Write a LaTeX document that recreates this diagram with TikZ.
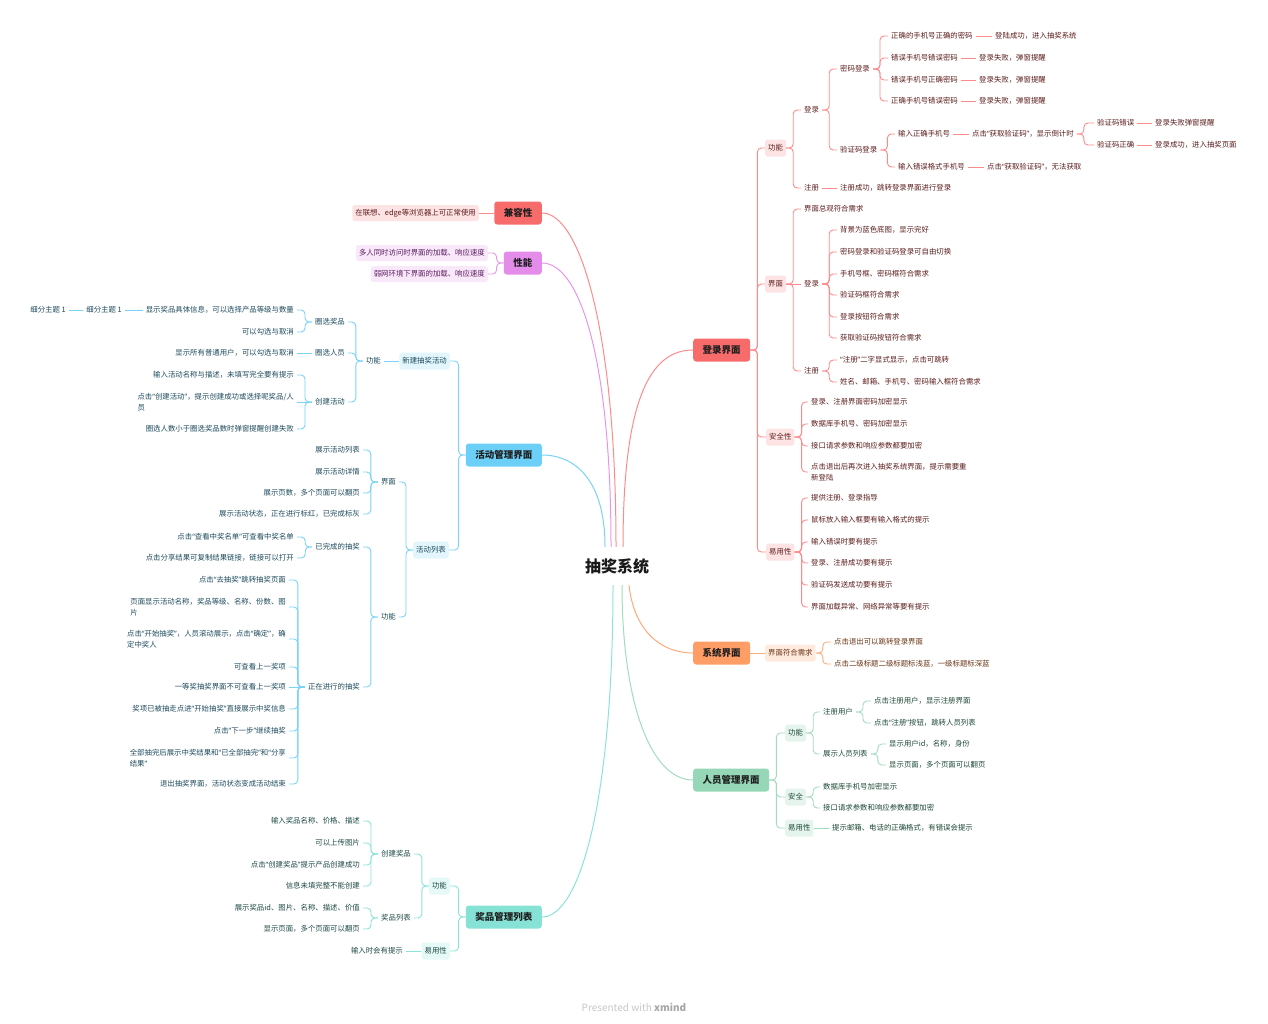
\documentclass[tikz,border=0pt]{standalone}
\usepackage{fontspec}
\setmainfont{Noto Sans CJK SC}
\newfontfamily\quotefont{Noto Sans}
\newcommand\qo{{\quotefont “}}
\newcommand\qc{{\quotefont ”}}
\definecolor{redM}{HTML}{F86B6B}
\definecolor{redL}{HTML}{FDE3E3}
\definecolor{redK}{HTML}{FF8A8A}
\definecolor{redT}{HTML}{5C1C1C}
\definecolor{purM}{HTML}{E38CEA}
\definecolor{purL}{HTML}{F9E7FA}
\definecolor{purK}{HTML}{E596E9}
\definecolor{purT}{HTML}{5B1F60}
\definecolor{bluM}{HTML}{6CCFF7}
\definecolor{bluL}{HTML}{E3F6FD}
\definecolor{bluK}{HTML}{7AD3F7}
\definecolor{bluT}{HTML}{1D4A5C}
\definecolor{oraM}{HTML}{FF9D66}
\definecolor{oraL}{HTML}{FFEBDE}
\definecolor{oraK}{HTML}{FFAA7A}
\definecolor{oraT}{HTML}{693313}
\definecolor{grnM}{HTML}{95D7B6}
\definecolor{grnL}{HTML}{E5F5ED}
\definecolor{grnK}{HTML}{A2DBBD}
\definecolor{grnT}{HTML}{1D4935}
\definecolor{teaM}{HTML}{86E2D5}
\definecolor{teaL}{HTML}{E5F9F6}
\definecolor{teaK}{HTML}{8AE3D8}
\definecolor{teaT}{HTML}{1D4945}
\tikzset{
  rootnode/.style={inner sep=2pt, minimum height=38pt, font=\fontsize{16}{18}\selectfont\bfseries, text=black!90},
  topic/.style={rounded corners=3pt, minimum height=23pt, inner xsep=9.5pt, inner ysep=2pt, font=\fontsize{9.5}{11}\selectfont\bfseries, text=black!88},
  subbox/.style={rounded corners=2.5pt, minimum height=17pt, inner xsep=3pt, inner ysep=1pt, font=\fontsize{7.4}{11}\selectfont},
  leaf/.style={inner xsep=3pt, inner ysep=1pt, align=left, font=\fontsize{7.4}{11}\selectfont},
  linkline/.style={line width=0.9pt, rounded corners=4pt},
  branch/.style={line width=1pt},
  redleaf/.style={leaf, anchor=west, text=redT},
  redbox/.style={subbox, anchor=west, fill=redL, text=redT},
  redlink/.style={linkline, draw=redK},
  oraleaf/.style={leaf, anchor=west, text=oraT},
  orabox/.style={subbox, anchor=west, fill=oraL, text=oraT},
  oralink/.style={linkline, draw=oraK},
  grnleaf/.style={leaf, anchor=west, text=grnT},
  grnbox/.style={subbox, anchor=west, fill=grnL, text=grnT},
  grnlink/.style={linkline, draw=grnK},
  bluleaf/.style={leaf, anchor=east, text=bluT},
  blubox/.style={subbox, anchor=east, fill=bluL, text=bluT},
  blulink/.style={linkline, draw=bluK},
  tealeaf/.style={leaf, anchor=east, text=teaT},
  teabox/.style={subbox, anchor=east, fill=teaL, text=teaT},
  tealink/.style={linkline, draw=teaK},
  purbox/.style={subbox, anchor=east, fill=purL, text=purT, minimum height=16pt},
  purlink/.style={linkline, draw=purK}
}
\begin{document}
\begin{tikzpicture}[x=1pt,y=-1pt]
\useasboundingbox (0,0) rectangle (1268,1023);

\node[rootnode] (root) at (617,566) {抽奖系统};

%% 登录界面
\node[topic, fill=redM, anchor=west] (login) at (693,350) {登录界面};
\node[redbox]  (lgF)   at (765,148) {功能};
\node[redleaf] (lgFL)  at (801,110) {登录};
\node[redleaf] (pwd)   at (837,69)  {密码登录};
\node[redleaf] (pwd1)  at (888,36)  {正确的手机号正确的密码};
\node[redleaf] (pwd1r) at (992,36)  {登陆成功，进入抽奖系统};
\node[redleaf] (pwd2)  at (888,58)  {错误手机号错误密码};
\node[redleaf] (pwd2r) at (976,58)  {登录失败，弹窗提醒};
\node[redleaf] (pwd3)  at (888,80)  {错误手机号正确密码};
\node[redleaf] (pwd3r) at (976,80)  {登录失败，弹窗提醒};
\node[redleaf] (pwd4)  at (888,101) {正确手机号错误密码};
\node[redleaf] (pwd4r) at (976,101) {登录失败，弹窗提醒};
\node[redleaf] (sms)   at (837,150) {验证码登录};
\node[redleaf] (sms1)  at (895,134) {输入正确手机号};
\node[redleaf] (sms1r) at (969,134) {点击\qo 获取验证码\qc ，显示倒计时};
\node[redleaf] (sms1a) at (1094,123) {验证码错误};
\node[redleaf] (sms1ar) at (1152,123) {登录失败弹窗提醒};
\node[redleaf] (sms1b) at (1094,145) {验证码正确};
\node[redleaf] (sms1br) at (1152,145) {登录成功，进入抽奖页面};
\node[redleaf] (sms2)  at (895,167) {输入错误格式手机号};
\node[redleaf] (sms2r) at (984,167) {点击\qo 获取验证码\qc ，无法获取};
\node[redleaf] (lgFR)  at (801,188) {注册};
\node[redleaf] (lgFRr) at (837,188) {注册成功，跳转登录界面进行登录};

\node[redbox]  (lgU)   at (765,284) {界面};
\node[redleaf] (lgU1)  at (801,209) {界面总观符合需求};
\node[redleaf] (lgUL)  at (801,284) {登录};
\node[redleaf] (lgUL1) at (837,230) {背景为蓝色底图，显示完好};
\node[redleaf] (lgUL2) at (837,252) {密码登录和验证码登录可自由切换};
\node[redleaf] (lgUL3) at (837,274) {手机号框、密码框符合需求};
\node[redleaf] (lgUL4) at (837,295) {验证码框符合需求};
\node[redleaf] (lgUL5) at (837,317) {登录按钮符合需求};
\node[redleaf] (lgUL6) at (837,338) {获取验证码按钮符合需求};
\node[redleaf] (lgUR)  at (801,371) {注册};
\node[redleaf] (lgUR1) at (837,360) {\qo 注册\qc 二字显式显示，点击可跳转};
\node[redleaf] (lgUR2) at (837,382) {姓名、邮箱、手机号、密码输入框符合需求};

\node[redbox]  (lgS)   at (766,437) {安全性};
\node[redleaf] (lgS1)  at (808,402) {登录、注册界面密码加密显示};
\node[redleaf] (lgS2)  at (808,424) {数据库手机号、密码加密显示};
\node[redleaf] (lgS3)  at (808,446) {接口请求参数和响应参数都要加密};
\node[redleaf] (lgS4)  at (808,472) {点击退出后再次进入抽奖系统界面，提示需要重\\新登陆};

\node[redbox]  (lgE)   at (766,552) {易用性};
\node[redleaf] (lgE1)  at (808,498) {提供注册、登录指导};
\node[redleaf] (lgE2)  at (808,520) {鼠标放入输入框要有输入格式的提示};
\node[redleaf] (lgE3)  at (808,542) {输入错误时要有提示};
\node[redleaf] (lgE4)  at (808,563) {登录、注册成功要有提示};
\node[redleaf] (lgE5)  at (808,585) {验证码发送成功要有提示};
\node[redleaf] (lgE6)  at (808,607) {界面加载异常、网络异常等要有提示};

%% 系统界面
\node[topic, fill=oraM, anchor=west] (sys) at (693,653) {系统界面};
\node[orabox]  (sysU)  at (765,653) {界面符合需求};
\node[oraleaf] (sysU1) at (831,642) {点击退出可以跳转登录界面};
\node[oraleaf] (sysU2) at (831,664) {点击二级标题二级标题标浅蓝，一级标题标深蓝};

%% 人员管理界面
\node[topic, fill=grnM, anchor=west] (user) at (693,780) {人员管理界面};
\node[grnbox]  (usF)   at (785,733) {功能};
\node[grnleaf] (usFR)  at (820,712) {注册用户};
\node[grnleaf] (usFR1) at (871,701) {点击注册用户，显示注册界面};
\node[grnleaf] (usFR2) at (871,723) {点击\qo 注册\qc 按钮，跳转人员列表};
\node[grnleaf] (usFL)  at (820,754) {展示人员列表};
\node[grnleaf] (usFL1) at (886,744) {显示用户id，名称，身份};
\node[grnleaf] (usFL2) at (886,765) {显示页面，多个页面可以翻页};
\node[grnbox]  (usS)   at (785,797) {安全};
\node[grnleaf] (usS1)  at (820,787) {数据库手机号加密显示};
\node[grnleaf] (usS2)  at (820,808) {接口请求参数和响应参数都要加密};
\node[grnbox]  (usE)   at (785,828) {易用性};
\node[grnleaf] (usE1)  at (829,828) {提示邮箱、电话的正确格式，有错误会提示};

%% 兼容性, 性能
\node[topic, fill=redM, anchor=east] (compat) at (542,213) {兼容性};
\node[subbox, anchor=east, fill=redL, text=redT, minimum height=16pt] (compat1) at (479,213) {在联想、edge等浏览器上可正常使用};
\node[topic, fill=purM, anchor=east] (perf) at (542,263) {性能};
\node[purbox] (perf1) at (488,253) {多人同时访问时界面的加载、响应速度};
\node[purbox] (perf2) at (488,274) {弱网环境下界面的加载、响应速度};

%% 活动管理界面
\node[topic, fill=bluM, anchor=east] (act) at (542,455) {活动管理界面};
\node[blubox]  (actN)  at (450,361) {新建抽奖活动};
\node[bluleaf] (actNF) at (384,361) {功能};
\node[bluleaf] (actP)  at (348,322) {圈选奖品};
\node[bluleaf] (actP1) at (297,310) {显示奖品具体信息，可以选择产品等级与数量};
\node[bluleaf] (actP1a) at (125,310) {细分主题 1};
\node[bluleaf] (actP1b) at (69,310) {细分主题 1};
\node[bluleaf] (actP2) at (297,332) {可以勾选与取消};
\node[bluleaf] (actM)  at (348,353) {圈选人员};
\node[bluleaf] (actM1) at (297,353) {显示所有普通用户，可以勾选与取消};
\node[bluleaf] (actC)  at (348,402) {创建活动};
\node[bluleaf] (actC1) at (297,375) {输入活动名称与描述，未填写完全要有提示};
\node[bluleaf] (actC2) at (297,402) {点击\qo 创建活动\qc ，提示创建成功或选择呢奖品/人\\员};
\node[bluleaf] (actC3) at (297,429) {圈选人数小于圈选奖品数时弹窗提醒创建失败};

\node[blubox]  (actL)  at (449,550) {活动列表};
\node[bluleaf] (actLU) at (399,482) {界面};
\node[bluleaf] (actLU1) at (363,450) {展示活动列表};
\node[bluleaf] (actLU2) at (363,472) {展示活动详情};
\node[bluleaf] (actLU3) at (363,493) {展示页数，多个页面可以翻页};
\node[bluleaf] (actLU4) at (363,514) {展示活动状态，正在进行标红，已完成标灰};
\node[bluleaf] (actLF) at (399,617) {功能};
\node[bluleaf] (actLD) at (363,547) {已完成的抽奖};
\node[bluleaf] (actLD1) at (297,537) {点击\qo 查看中奖名单\qc 可查看中奖名单};
\node[bluleaf] (actLD2) at (297,558) {点击分享结果可复制结果链接，链接可以打开};
\node[bluleaf] (actLR) at (363,687) {正在进行的抽奖};
\node[bluleaf] (actLR1) at (289,580) {点击\qo 去抽奖\qc 跳转抽奖页面};
\node[bluleaf] (actLR2) at (289,607) {页面显示活动名称，奖品等级、名称、份数、图\\片};
\node[bluleaf] (actLR3) at (289,639) {点击\qo 开始抽奖\qc ，人员滚动展示，点击\qo 确定\qc ，确\\定中奖人};
\node[bluleaf] (actLR4) at (289,667) {可查看上一奖项};
\node[bluleaf] (actLR5) at (289,687) {一等奖抽奖界面不可查看上一奖项};
\node[bluleaf] (actLR6) at (289,709) {奖项已被抽走点进\qo 开始抽奖\qc 直接展示中奖信息};
\node[bluleaf] (actLR7) at (289,731) {点击\qo 下一步\qc 继续抽奖};
\node[bluleaf] (actLR8) at (289,758) {全部抽完后展示中奖结果和\qo 已全部抽完\qc 和\qo 分享\\结果\qc};
\node[bluleaf] (actLR9) at (289,784) {退出抽奖界面，活动状态变成活动结束};

%% 奖品管理列表
\node[topic, fill=teaM, anchor=east] (prize) at (542,917) {奖品管理列表};
\node[teabox]  (przF)  at (450,886) {功能};
\node[tealeaf] (przC)  at (414,854) {创建奖品};
\node[tealeaf] (przC1) at (363,821) {输入奖品名称、价格、描述};
\node[tealeaf] (przC2) at (363,843) {可以上传图片};
\node[tealeaf] (przC3) at (363,865) {点击\qo 创建奖品\qc 提示产品创建成功};
\node[tealeaf] (przC4) at (363,886) {信息未填完整不能创建};
\node[tealeaf] (przL)  at (414,918) {奖品列表};
\node[tealeaf] (przL1) at (363,908) {展示奖品id、图片、名称、描述、价值};
\node[tealeaf] (przL2) at (363,929) {显示页面，多个页面可以翻页};
\node[teabox]  (przE)  at (450,951) {易用性};
\node[tealeaf] (przE1) at (406,951) {输入时会有提示};

\node[text=gray!45, font=\fontsize{10}{11}\selectfont] (mark) at (634,1007) {Presented with \textcolor{gray!70}{\textbf{xmind}}};

%% main branches
\draw[branch, redK] ([xshift=6pt]root.north)   .. controls (623,400) and (650,350) .. (login.west);
\draw[branch, redK] ([xshift=-1pt]root.north)  .. controls (616,330) and (580,213) .. (compat.east);
\draw[branch, purK] ([xshift=-6pt]root.north)  .. controls (611,360) and (580,263) .. (perf.east);
\draw[branch, bluK] ([xshift=-12pt]root.north) .. controls (605,480) and (575,455) .. (act.east);
\draw[branch, oraK] ([xshift=12pt]root.south)  .. controls (634,630) and (660,653) .. (sys.west);
\draw[branch, grnK] ([xshift=5pt]root.south)   .. controls (622,700) and (650,780) .. (user.west);
\draw[branch, teaK] ([xshift=-4pt]root.south)  .. controls (613,800) and (580,917) .. (prize.east);

%% 登录界面 links
\draw[redlink] (login.east) -- ++(7,0) |- (lgF.west);
\draw[redlink] (login.east) -- ++(7,0) |- (lgU.west);
\draw[redlink] (login.east) -- ++(7,0) |- (lgS.west);
\draw[redlink] (login.east) -- ++(7,0) |- (lgE.west);
\draw[redlink] (lgF.east)   -- ++(7,0) |- (lgFL.west);
\draw[redlink] (lgF.east)   -- ++(7,0) |- (lgFR.west);
\draw[redlink] (lgFL.east)  -- ++(7,0) |- (pwd.west);
\draw[redlink] (lgFL.east)  -- ++(7,0) |- (sms.west);
\draw[redlink] (pwd.east)   -- ++(7,0) |- (pwd1.west);
\draw[redlink] (pwd.east)   -- ++(7,0) |- (pwd2.west);
\draw[redlink] (pwd.east)   -- ++(7,0) |- (pwd3.west);
\draw[redlink] (pwd.east)   -- ++(7,0) |- (pwd4.west);
\draw[redlink] (pwd1.east)  -- (pwd1r.west);
\draw[redlink] (pwd2.east)  -- (pwd2r.west);
\draw[redlink] (pwd3.east)  -- (pwd3r.west);
\draw[redlink] (pwd4.east)  -- (pwd4r.west);
\draw[redlink] (sms.east)   -- ++(7,0) |- (sms1.west);
\draw[redlink] (sms.east)   -- ++(7,0) |- (sms2.west);
\draw[redlink] (sms1.east)  -- (sms1r.west);
\draw[redlink] (sms1r.east) -- ++(7,0) |- (sms1a.west);
\draw[redlink] (sms1r.east) -- ++(7,0) |- (sms1b.west);
\draw[redlink] (sms1a.east) -- (sms1ar.west);
\draw[redlink] (sms1b.east) -- (sms1br.west);
\draw[redlink] (sms2.east)  -- (sms2r.west);
\draw[redlink] (lgFR.east)  -- (lgFRr.west);
\draw[redlink] (lgU.east)   -- ++(7,0) |- (lgU1.west);
\draw[redlink] (lgU.east)   -- (lgUL.west);
\draw[redlink] (lgU.east)   -- ++(7,0) |- (lgUR.west);
\draw[redlink] (lgUL.east)  -- ++(7,0) |- (lgUL1.west);
\draw[redlink] (lgUL.east)  -- ++(7,0) |- (lgUL2.west);
\draw[redlink] (lgUL.east)  -- ++(7,0) |- (lgUL3.west);
\draw[redlink] (lgUL.east)  -- ++(7,0) |- (lgUL4.west);
\draw[redlink] (lgUL.east)  -- ++(7,0) |- (lgUL5.west);
\draw[redlink] (lgUL.east)  -- ++(7,0) |- (lgUL6.west);
\draw[redlink] (lgUR.east)  -- ++(7,0) |- (lgUR1.west);
\draw[redlink] (lgUR.east)  -- ++(7,0) |- (lgUR2.west);
\draw[redlink] (lgS.east)   -- ++(7,0) |- (lgS1.west);
\draw[redlink] (lgS.east)   -- ++(7,0) |- (lgS2.west);
\draw[redlink] (lgS.east)   -- ++(7,0) |- (lgS3.west);
\draw[redlink] (lgS.east)   -- ++(7,0) |- (lgS4.west);
\draw[redlink] (lgE.east)   -- ++(7,0) |- (lgE1.west);
\draw[redlink] (lgE.east)   -- ++(7,0) |- (lgE2.west);
\draw[redlink] (lgE.east)   -- ++(7,0) |- (lgE3.west);
\draw[redlink] (lgE.east)   -- ++(7,0) |- (lgE4.west);
\draw[redlink] (lgE.east)   -- ++(7,0) |- (lgE5.west);
\draw[redlink] (lgE.east)   -- ++(7,0) |- (lgE6.west);

%% 系统界面 links
\draw[oralink] (sys.east)   -- (sysU.west);
\draw[oralink] (sysU.east)  -- ++(7,0) |- (sysU1.west);
\draw[oralink] (sysU.east)  -- ++(7,0) |- (sysU2.west);

%% 人员管理界面 links
\draw[grnlink] (user.east)  -- ++(7,0) |- (usF.west);
\draw[grnlink] (user.east)  -- ++(7,0) |- (usS.west);
\draw[grnlink] (user.east)  -- ++(7,0) |- (usE.west);
\draw[grnlink] (usF.east)   -- ++(7,0) |- (usFR.west);
\draw[grnlink] (usF.east)   -- ++(7,0) |- (usFL.west);
\draw[grnlink] (usFR.east)  -- ++(7,0) |- (usFR1.west);
\draw[grnlink] (usFR.east)  -- ++(7,0) |- (usFR2.west);
\draw[grnlink] (usFL.east)  -- ++(7,0) |- (usFL1.west);
\draw[grnlink] (usFL.east)  -- ++(7,0) |- (usFL2.west);
\draw[grnlink] (usS.east)   -- ++(7,0) |- (usS1.west);
\draw[grnlink] (usS.east)   -- ++(7,0) |- (usS2.west);
\draw[grnlink] (usE.east)   -- (usE1.west);

%% 兼容性, 性能 links
\draw[redlink] (compat.west) -- (compat1.east);
\draw[purlink] (perf.west)   -- ++(-7,0) |- (perf1.east);
\draw[purlink] (perf.west)   -- ++(-7,0) |- (perf2.east);

%% 活动管理界面 links
\draw[blulink] (act.west)   -- ++(-7,0) |- (actN.east);
\draw[blulink] (act.west)   -- ++(-7,0) |- (actL.east);
\draw[blulink] (actN.west)  -- (actNF.east);
\draw[blulink] (actNF.west) -- ++(-7,0) |- (actP.east);
\draw[blulink] (actNF.west) -- ++(-7,0) |- (actM.east);
\draw[blulink] (actNF.west) -- ++(-7,0) |- (actC.east);
\draw[blulink] (actP.west)  -- ++(-7,0) |- (actP1.east);
\draw[blulink] (actP.west)  -- ++(-7,0) |- (actP2.east);
\draw[blulink] (actP1.west) -- (actP1a.east);
\draw[blulink] (actP1a.west) -- (actP1b.east);
\draw[blulink] (actM.west)  -- (actM1.east);
\draw[blulink] (actC.west)  -- ++(-7,0) |- (actC1.east);
\draw[blulink] (actC.west)  -- (actC2.east);
\draw[blulink] (actC.west)  -- ++(-7,0) |- (actC3.east);
\draw[blulink] (actL.west)  -- ++(-7,0) |- (actLU.east);
\draw[blulink] (actL.west)  -- ++(-7,0) |- (actLF.east);
\draw[blulink] (actLU.west) -- ++(-7,0) |- (actLU1.east);
\draw[blulink] (actLU.west) -- ++(-7,0) |- (actLU2.east);
\draw[blulink] (actLU.west) -- ++(-7,0) |- (actLU3.east);
\draw[blulink] (actLU.west) -- ++(-7,0) |- (actLU4.east);
\draw[blulink] (actLF.west) -- ++(-7,0) |- (actLD.east);
\draw[blulink] (actLF.west) -- ++(-7,0) |- (actLR.east);
\draw[blulink] (actLD.west) -- ++(-7,0) |- (actLD1.east);
\draw[blulink] (actLD.west) -- ++(-7,0) |- (actLD2.east);
\draw[blulink] (actLR.west) -- ++(-7,0) |- (actLR1.east);
\draw[blulink] (actLR.west) -- ++(-7,0) |- (actLR2.east);
\draw[blulink] (actLR.west) -- ++(-7,0) |- (actLR3.east);
\draw[blulink] (actLR.west) -- ++(-7,0) |- (actLR4.east);
\draw[blulink] (actLR.west) -- (actLR5.east);
\draw[blulink] (actLR.west) -- ++(-7,0) |- (actLR6.east);
\draw[blulink] (actLR.west) -- ++(-7,0) |- (actLR7.east);
\draw[blulink] (actLR.west) -- ++(-7,0) |- (actLR8.east);
\draw[blulink] (actLR.west) -- ++(-7,0) |- (actLR9.east);

%% 奖品管理列表 links
\draw[tealink] (prize.west) -- ++(-7,0) |- (przF.east);
\draw[tealink] (prize.west) -- ++(-7,0) |- (przE.east);
\draw[tealink] (przF.west)  -- ++(-7,0) |- (przC.east);
\draw[tealink] (przF.west)  -- ++(-7,0) |- (przL.east);
\draw[tealink] (przC.west)  -- ++(-7,0) |- (przC1.east);
\draw[tealink] (przC.west)  -- ++(-7,0) |- (przC2.east);
\draw[tealink] (przC.west)  -- ++(-7,0) |- (przC3.east);
\draw[tealink] (przC.west)  -- ++(-7,0) |- (przC4.east);
\draw[tealink] (przL.west)  -- ++(-7,0) |- (przL1.east);
\draw[tealink] (przL.west)  -- ++(-7,0) |- (przL2.east);
\draw[tealink] (przE.west)  -- (przE1.east);
\end{tikzpicture}
\end{document}
